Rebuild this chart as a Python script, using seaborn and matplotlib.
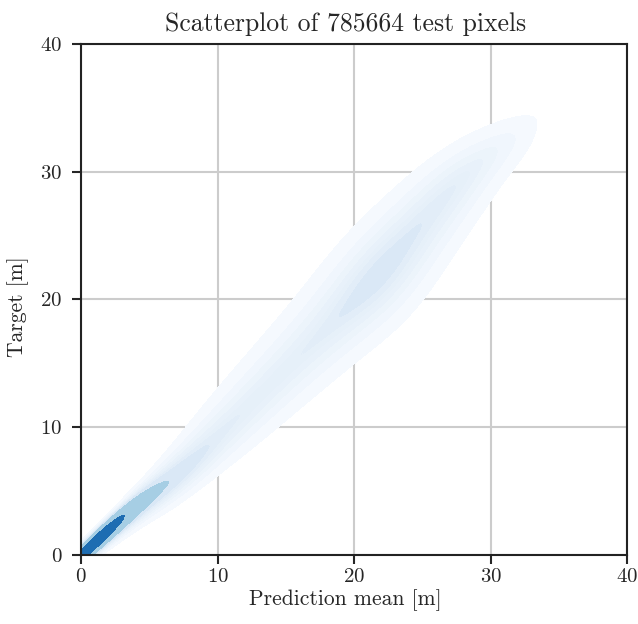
import numpy as np
import pandas as pd
import matplotlib
matplotlib.use("Agg")
import matplotlib.pyplot as plt
import seaborn as sns

# Centre line of the point cloud: target values and the prediction at each
target_c = [0.0, 0.5, 1.0, 1.5, 2.0, 2.5, 3.0, 3.5, 4.0, 5.0, 6.0, 7.0, 8.0,
            9.0, 10.0, 11.0, 12.0, 13.0, 14.0, 15.0, 16.0, 17.0, 18.0, 19.0,
            20.0, 21.0, 22.0, 23.0, 24.0, 25.0, 26.0, 27.0, 28.0, 29.0, 30.0,
            31.0, 32.0, 33.0]
pred_c = [0.0, 0.55, 1.1, 1.65, 2.2, 2.75, 3.3, 3.9, 4.5, 5.8, 6.9, 7.9, 8.8,
          9.8, 10.7, 11.65, 12.6, 13.55, 14.5, 15.45, 16.4, 17.35, 18.3, 19.25,
          20.2, 21.1, 21.9, 22.6, 23.4, 24.2, 25.0, 25.8, 26.6, 27.4, 28.3,
          29.4, 30.8, 32.3]
# Half-width of the cloud across the diagonal
spread = [0.25, 0.3, 0.35, 0.45, 0.55, 0.65, 0.75, 0.85, 0.95, 1.2, 1.4, 1.6,
          1.8, 2.0, 2.2, 2.3, 2.4, 2.5, 2.6, 2.7, 2.8, 2.85, 2.9, 2.95, 3.0,
          3.0, 3.0, 3.0, 2.95, 2.9, 2.8, 2.7, 2.6, 2.5, 2.3, 2.2, 2.0, 1.8]
# Relative pixel count at each centre
count = [2.5, 1.8, 1.5, 1.25, 1.0, 0.8, 0.65, 0.58, 0.83, 1.1, 1.05, 1.0,
         0.9, 0.9, 0.9, 0.95, 1.0, 1.0, 1.05, 1.1, 1.15, 1.2, 1.3, 1.42, 1.6,
         1.78, 1.72, 1.6, 1.47, 1.35, 1.25, 1.2, 1.1, 1.05, 0.95, 0.8, 0.6,
         0.45]

# Relative share of pixels across the diagonal, centre line in the middle
profile = [0.08, 0.2, 0.42, 0.72, 1.0, 0.72, 0.42, 0.2, 0.08]

title = "Scatterplot of 785664 test pixels"
x_label = "Prediction mean [m]"
y_label = "Target [m]"
ticks = [0, 10, 20, 30, 40]

# Spread each centre across the diagonal into a row of weighted samples
prof_pos = np.linspace(-1.0, 1.0, len(profile))
across = np.linspace(-1.0, 1.0, 25)
share = np.interp(across, prof_pos, profile)
share = share / share.sum()
rows = []
for p, t, s, w in zip(pred_c, target_c, spread, count):
    for u, f in zip(across, share):
        rows.append((p + u * s, t - u * s, w * f))
df = pd.DataFrame(rows, columns=["pred", "target", "w"])

sns.set_style("ticks", {"axes.grid": True})
plt.rcParams["font.family"] = ["cmr10"]
plt.rcParams["mathtext.fontset"] = "cm"
plt.rcParams["axes.formatter.use_mathtext"] = True

fig = plt.figure(figsize=(6.38, 6.24), dpi=100)
ax = fig.add_axes([0.127, 0.1106, 0.856, 0.819])

sns.kdeplot(data=df, x="pred", y="target", weights="w", fill=True,
            cmap="Blues", bw_adjust=0.45, gridsize=300, ax=ax)

ax.set_xlim(0, 40)
ax.set_ylim(0, 40)
ax.set_xticks(ticks)
ax.set_yticks(ticks)
ax.set_xlabel(x_label, fontsize=15.5)
ax.set_ylabel(y_label, fontsize=15.5)
ax.xaxis.set_label_coords(0.4835, -0.068)
ax.yaxis.set_label_coords(-0.095, 0.485)
ax.set_title(title, fontsize=18.5, pad=9, x=0.4835)
ax.tick_params(labelsize=15, length=6.5, width=1.5, direction="out")
ax.tick_params(axis="y", pad=7)
ax.tick_params(axis="x", pad=3)
ax.grid(True, color="#cccccc", linewidth=1.5)
ax.set_axisbelow(True)
for sp in ax.spines.values():
    sp.set_linewidth(1.5)
    sp.set_color("#222222")

fig.savefig("out.png", dpi=100)
